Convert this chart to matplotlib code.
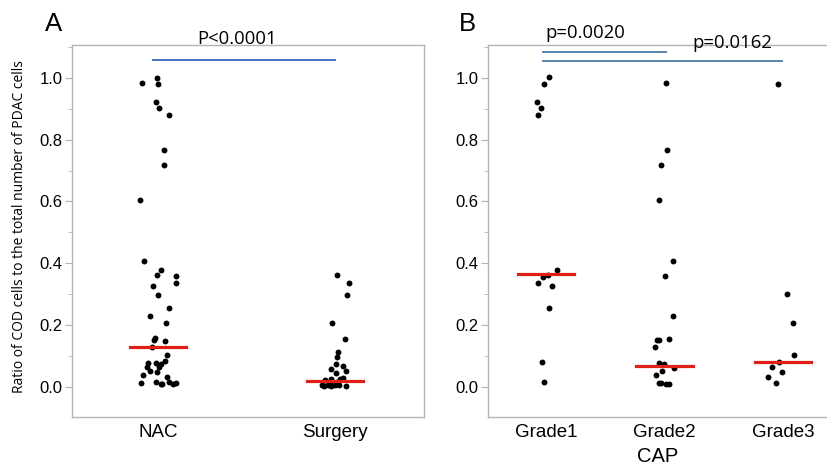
import matplotlib
matplotlib.use("Agg")
import matplotlib.pyplot as plt
from matplotlib.ticker import MultipleLocator

# ratio values, plus horizontal jitter (category units)
nac = [0.984, 1.00, 0.979, 0.922, 0.903, 0.879, 0.766, 0.717, 0.605, 0.408,
       0.378, 0.362, 0.358, 0.336, 0.328, 0.298, 0.256, 0.231, 0.207, 0.157,
       0.152, 0.149, 0.130, 0.103, 0.084, 0.077, 0.078, 0.074, 0.066, 0.066,
       0.052, 0.049, 0.039, 0.033, 0.014, 0.016, 0.011, 0.016, 0.009, 0.012,
       0.009]
nac_jit = [-0.092, -0.007, 0.0, -0.011, 0.008, 0.062, 0.034, 0.036, -0.102, -0.077,
           0.017, -0.007, 0.102, 0.102, -0.026, -0.002, 0.064, -0.045, 0.043, -0.015,
           -0.021, 0.040, -0.036, 0.053, 0.040, -0.055, -0.011, 0.015, -0.064, 0.008,
           -0.045, -0.004, -0.083, 0.049, -0.098, -0.011, 0.015, 0.062, 0.083, 0.102,
           0.023]
surgery = [0.362, 0.337, 0.296, 0.207, 0.155, 0.112, 0.098, 0.073, 0.059, 0.068,
           0.051, 0.044, 0.024, 0.025, 0.027, 0.028, 0.008, 0.003, 0.005, 0.002,
           0.008, 0.006, 0.004, 0.012, 0.015]
surgery_jit = [0.010, 0.081, 0.068, -0.017, 0.056, 0.019, 0.010, 0.006, -0.024, 0.047,
               0.062, 0.004, -0.057, -0.020, 0.030, 0.045, -0.075, -0.060, -0.040, -0.020,
               0.0, 0.020, 0.060, -0.030, 0.010]

grade1 = [1.001, 0.980, 0.922, 0.903, 0.879, 0.378, 0.357, 0.362, 0.335, 0.327,
          0.255, 0.082, 0.015]
grade1_jit = [0.028, -0.017, -0.073, -0.045, -0.065, 0.096, -0.028, 0.014, -0.065, 0.048,
              0.028, -0.036, -0.017]
grade2 = [0.984, 0.765, 0.717, 0.605, 0.408, 0.358, 0.231, 0.156, 0.151, 0.151,
          0.130, 0.079, 0.074, 0.060, 0.052, 0.039, 0.012, 0.014, 0.011, 0.010]
grade2_jit = [0.011, 0.017, -0.031, -0.048, 0.068, 0.003, 0.068, 0.034, -0.065, -0.048,
              -0.076, -0.048, 0.0, 0.076, -0.025, -0.070, -0.050, -0.030, 0.010, 0.040]
grade3 = [0.979, 0.300, 0.208, 0.103, 0.080, 0.066, 0.050, 0.033, 0.014]
grade3_jit = [-0.045, 0.030, 0.085, 0.093, -0.035, -0.090, -0.011, -0.127, -0.062]

medians_a = [0.128, 0.020]
medians_b = [0.364, 0.067, 0.080]
labels_a = ["NAC", "Surgery"]
labels_b = ["Grade1", "Grade2", "Grade3"]

GRAY = "#b4b4b4"
RED = "#df1f1a"
TICKFONT = "Liberation Sans"
NOTEFONT = "Open Sans"


def style_axis(ax, labels, xlim):
    ax.set_xlim(*xlim)
    ax.set_ylim(-0.097, 1.106)
    ax.set_xticks(range(len(labels)))
    ax.set_xticklabels(labels, fontsize=13.5, family=TICKFONT)
    ax.tick_params(axis="x", length=0, pad=5)
    ax.yaxis.set_minor_locator(MultipleLocator(0.1))
    ax.set_yticks([0, 0.2, 0.4, 0.6, 0.8, 1.0])
    ax.set_yticklabels(["0.0", "0.2", "0.4", "0.6", "0.8", "1.0"], fontsize=12, family=TICKFONT)
    ax.tick_params(axis="y", which="major", length=5, color=GRAY, pad=2)
    ax.tick_params(axis="y", which="minor", length=3, color=GRAY)
    for s in ax.spines.values():
        s.set_color(GRAY)
        s.set_linewidth(1.0)


def strip(ax, groups, jits, meds, half):
    for i, (vals, jit) in enumerate(zip(groups, jits)):
        ax.scatter([i + j for j in jit], vals, s=18, color="black", zorder=3, linewidths=0)
        ax.plot([i - half, i + half], [meds[i], meds[i]], color=RED, lw=2.3, zorder=4)


fig = plt.figure(figsize=(8.28, 4.68), dpi=100)
ax_a = fig.add_axes([72 / 828, 51 / 468, 352 / 828, 372 / 468])
ax_b = fig.add_axes([488 / 828, 51 / 468, 353 / 828, 372 / 468])

strip(ax_a, [nac, surgery], [nac_jit, surgery_jit], medians_a, 0.156)
style_axis(ax_a, labels_a, (-0.486, 1.503))
ax_a.plot([-0.03, 1.0], [1.056, 1.056], color="#4472c4", lw=1.4, clip_on=False)
ax_a.text(0.446, 1.125, "P<0.0001", ha="center", va="center", fontsize=13.3,
          family=NOTEFONT, clip_on=False)

strip(ax_b, [grade1, grade2, grade3], [grade1_jit, grade2_jit, grade3_jit], medians_b, 0.238)
style_axis(ax_b, labels_b, (-0.49, 2.49))
ax_b.plot([-0.025, 1.015], [1.083, 1.083], color="#5a86b0", lw=1.4, clip_on=False)
ax_b.plot([-0.025, 1.99], [1.055, 1.055], color="#5a86b0", lw=1.4, clip_on=False)
ax_b.text(0.33, 1.145, "p=0.0020", ha="center", va="center", fontsize=13.3,
          family=NOTEFONT, clip_on=False)
ax_b.text(1.576, 1.112, "p=0.0162", ha="center", va="center", fontsize=13.3,
          family=NOTEFONT, clip_on=False)

fig.text(20 / 828, 1 - 227 / 468, "Ratio of COD cells to the total number of PDAC cells",
         rotation=90, ha="center", va="center", fontsize=10, family=NOTEFONT)
fig.text(658 / 828, 1 - 457 / 468, "CAP", ha="center", va="center", fontsize=14.5, family=TICKFONT)
fig.text(54 / 828, 1 - 24 / 468, "A", ha="center", va="center", fontsize=18.5, family=TICKFONT)
fig.text(467 / 828, 1 - 24 / 468, "B", ha="center", va="center", fontsize=18.5, family=TICKFONT)

fig.savefig("out.png", dpi=100)
